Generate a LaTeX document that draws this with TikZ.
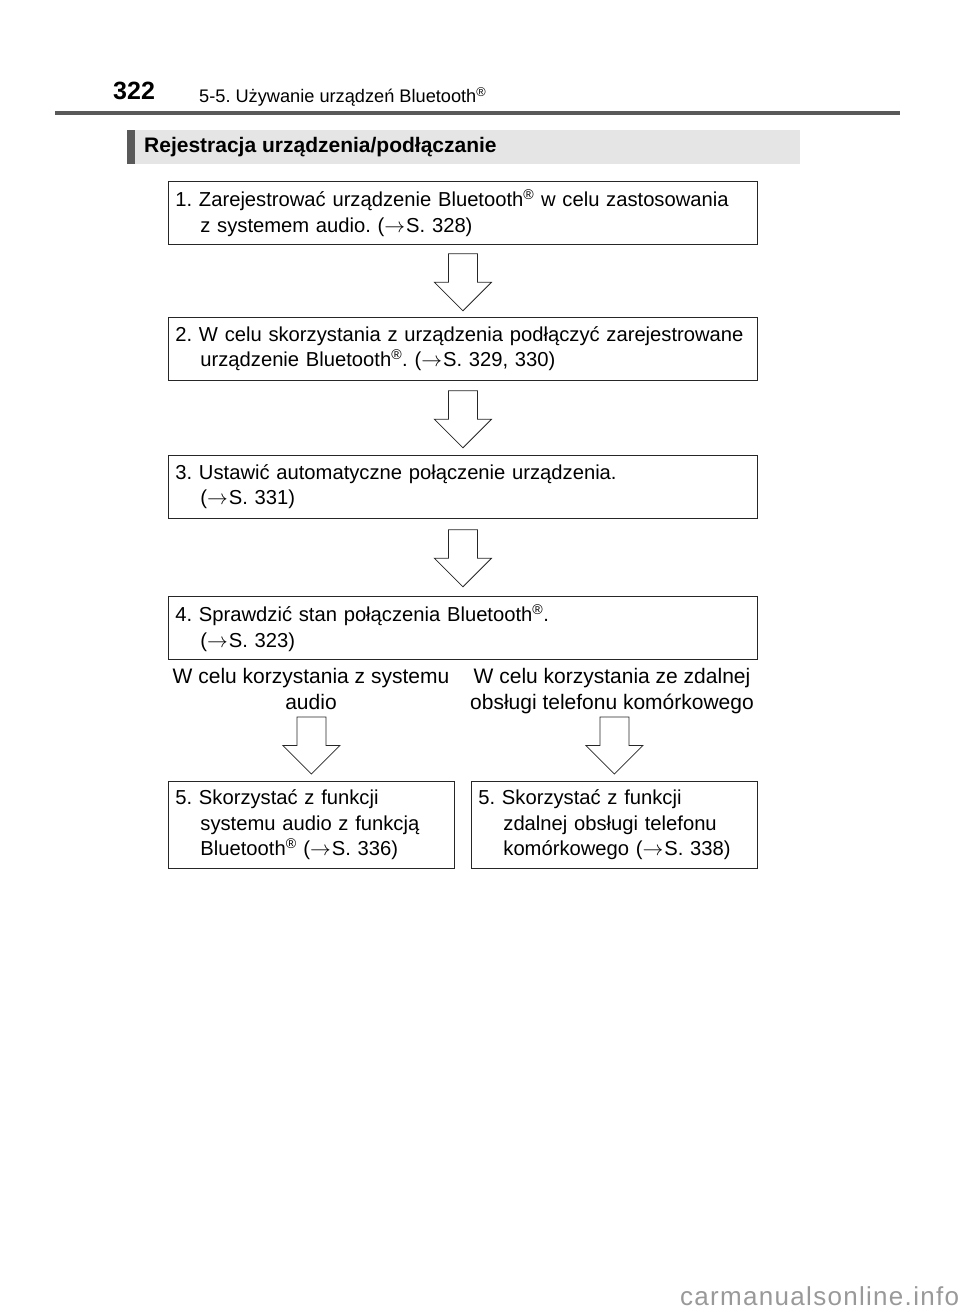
\documentclass[tikz,border=0pt]{standalone}
\usepackage{fontspec}
\setmainfont{Liberation Sans}
\usetikzlibrary{calc}
\frenchspacing
\newcommand{\rarr}{$\rightarrow$\kern1pt}
\newcommand{\regm}{\textsuperscript{®}}
\begin{document}
\begin{tikzpicture}[x=1pt,y=-1pt,
  stepbox/.style={draw=black!85, line width=0.8pt, anchor=north west, align=left,
    inner xsep=7pt, inner ysep=0pt, font=\fontsize{20.2}{25.5}\selectfont},
  widebox/.style={stepbox, text width=575pt, minimum height=63pt},
  halfbox/.style={stepbox, text width=272pt, minimum height=87pt},
  lbl/.style={align=center, inner sep=0pt, font=\fontsize{21}{25.5}\selectfont},
  pics/barrow/.style={code={
    \draw[draw=black!85, line width=0.8pt, fill=white, line join=miter]
      (-14.5,0) -- (14.5,0) -- (14.5,28.5) -- (28.5,28.5) -- (0,57)
      -- (-28.5,28.5) -- (-14.5,28.5) -- cycle;}}
]
\useasboundingbox (0,0) rectangle (960,1313);

% header
\node[anchor=base west, inner sep=0pt, font=\fontsize{25}{25}\selectfont\bfseries] (pg) at (113,100) {322};
\node[anchor=base west, inner sep=0pt, font=\fontsize{18.2}{18.2}\selectfont] (ht) at (199,103) {5-5. Używanie urządzeń Bluetooth\regm};
\draw[black!65, line width=3.5pt] (55,113) -- (900,113);

% section heading
\fill[black!10] (127,130) rectangle (800,164);
\fill[black!65] (127,130) rectangle (135,164);
\node[anchor=west, inner sep=0pt, font=\fontsize{21}{21}\selectfont\bfseries] (sh) at (144,147.5) {Rejestracja urządzenia/podłączanie};

% steps
\node[widebox] (b1) at (168,181) {\mbox{1. Zarejestrować urządzenie Bluetooth\regm{} w celu zastosowania}\\\hspace*{25pt}z systemem audio. (\rarr S. 328)};
\node[widebox] (b2) at (168,317) {\mbox{2. W celu skorzystania z urządzenia podłączyć zarejestrowane}\\\hspace*{25pt}urządzenie Bluetooth\regm. (\rarr S. 329, 330)};
\node[widebox] (b3) at (168,455) {3. Ustawić automatyczne połączenie urządzenia.\\\hspace*{25pt}(\rarr S. 331)};
\node[widebox] (b4) at (168,596) {4. Sprawdzić stan połączenia Bluetooth\regm.\\\hspace*{25pt}(\rarr S. 323)};

\pic at ($(b1.south)+(0,9)$) {barrow};
\pic at ($(b2.south)+(0,10)$) {barrow};
\pic at ($(b3.south)+(0,11)$) {barrow};

\node[lbl] (l1) at (311,691.5) {\strut W celu korzystania z systemu\\\strut audio};
\node[lbl] (l2) at (612,691.5) {\strut W celu korzystania ze zdalnej\\\strut obsługi telefonu komórkowego};

\node[halfbox] (b5a) at (168,781) {5. Skorzystać z funkcji\\\hspace*{25pt}\mbox{systemu audio z funkcją}\\\hspace*{25pt}\mbox{Bluetooth\regm{} (\rarr S. 336)}};
\node[halfbox] (b5b) at (471,781) {5. Skorzystać z funkcji\\\hspace*{25pt}\mbox{zdalnej obsługi telefonu}\\\hspace*{25pt}\mbox{komórkowego (\rarr S. 338)}};

\pic at ($(b5a.north)+(0,-64)$) {barrow};
\pic at ($(b5b.north)+(0,-64)$) {barrow};

% watermark
\node[anchor=base west, inner sep=0pt, text=black!40, font=\fontsize{26}{26}\selectfont\addfontfeature{LetterSpace=5}] (wm) at (680,1305) {carmanualsonline.info};
\end{tikzpicture}
\end{document}
